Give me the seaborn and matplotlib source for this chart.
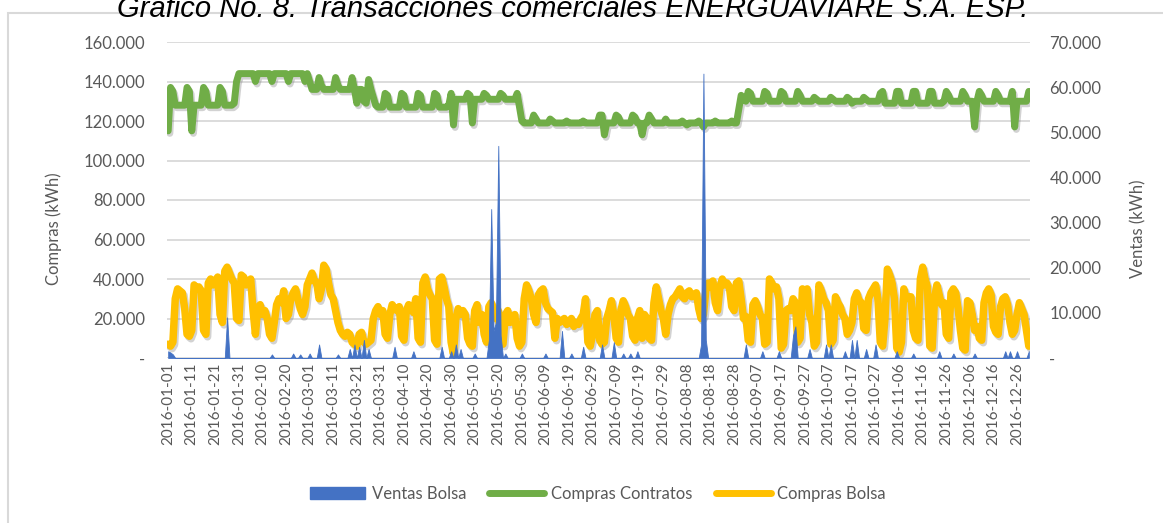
import numpy as np
import pandas as pd
import matplotlib
matplotlib.use('Agg')
import matplotlib.pyplot as plt
import seaborn as sns
from matplotlib import patheffects as pe
from matplotlib.patches import Patch, Rectangle
from matplotlib.lines import Line2D
from matplotlib.ticker import FuncFormatter

sns.set_style('white')
plt.rcParams['font.family'] = ['Lato', 'DejaVu Sans']

# Compras Contratos (miles de kWh), una fila por semana (vie..jue)
compras_contratos = [
    115, 137, 135, 128, 128, 128, 128,
    128, 137, 135, 115, 128, 128, 128,
    128, 137, 135, 128, 128, 128, 128,
    128, 137, 135, 128, 128, 128, 128,
    129, 140, 144, 144, 144, 144, 144,
    144, 144, 140, 144, 144, 144, 144,
    144, 144, 140, 144, 144, 144, 144,
    144, 144, 140, 144, 144, 144, 144,
    144, 144, 140, 144, 140, 136, 136,
    136, 142, 138, 136, 136, 136, 136,
    136, 142, 138, 136, 136, 136, 136,
    136, 142, 136, 129, 136, 136, 130,
    129, 141, 136, 132, 128, 127, 127,
    127, 134, 133, 127, 127, 127, 127,
    127, 134, 133, 127, 127, 127, 127,
    127, 134, 133, 127, 127, 127, 127,
    127, 134, 133, 127, 127, 127, 127,
    128, 134, 118, 131, 131, 131, 131,
    131, 134, 133, 119, 131, 131, 131,
    131, 134, 133, 131, 131, 131, 131,
    131, 134, 133, 131, 131, 131, 131,
    131, 134, 127, 120, 119, 119, 119,
    119, 123, 121, 119, 119, 119, 119,
    119, 121, 120, 119, 119, 119, 119,
    119, 120, 119, 119, 119, 119, 119,
    119, 120, 119, 119, 119, 119, 119,
    119, 123, 123, 113, 119, 119, 119,
    119, 123, 122, 119, 119, 119, 119,
    119, 123, 122, 119, 119, 113, 119,
    119, 123, 121, 119, 119, 119, 119,
    119, 121, 119, 119, 119, 119, 119,
    119, 120, 119, 118, 119, 119, 119,
    119, 120, 119, 117, 119, 119, 119,
    119, 120, 119, 119, 119, 119, 119,
    119, 120, 119, 119, 126, 133, 131,
    130, 135, 134, 130, 130, 130, 130,
    130, 135, 134, 130, 130, 130, 130,
    130, 135, 134, 130, 130, 130, 130,
    130, 135, 133, 130, 130, 130, 130,
    130, 132, 131, 130, 130, 130, 130,
    130, 132, 131, 130, 130, 130, 130,
    130, 132, 131, 129, 130, 130, 130,
    130, 132, 131, 130, 130, 130, 130,
    130, 134, 135, 129, 129, 129, 129,
    129, 135, 135, 129, 129, 129, 129,
    129, 135, 135, 129, 129, 129, 129,
    129, 135, 135, 129, 129, 129, 129,
    130, 135, 133, 130, 130, 130, 130,
    130, 135, 133, 130, 130, 130, 117,
    130, 135, 133, 130, 130, 130, 130,
    130, 135, 133, 130, 130, 130, 130,
    130, 135, 117, 130, 130, 130, 130,
    130, 135,
]

# Compras Bolsa (miles de kWh)
compras_bolsa = [
    7, 6, 8, 30, 35, 34, 33,
    25, 12, 11, 14, 37, 35, 36,
    34, 14, 12, 38, 40, 37, 39,
    41, 22, 18, 44, 46, 43, 40,
    38, 20, 19, 42, 41, 37, 38,
    40, 24, 12, 25, 27, 22, 24,
    20, 12, 10, 18, 27, 30, 28,
    34, 20, 22, 30, 33, 35, 30,
    25, 22, 26, 37, 40, 43, 39,
    38, 30, 35, 47, 45, 38, 32,
    30, 24, 18, 14, 12, 11, 13,
    12, 8, 7, 6, 12, 13, 8,
    7, 8, 9, 20, 24, 26, 22,
    24, 12, 10, 22, 27, 25, 24,
    26, 11, 9, 24, 27, 26, 23,
    30, 10, 8, 38, 41, 35, 32,
    30, 9, 7, 40, 41, 36, 30,
    26, 8, 2, 20, 25, 22, 24,
    22, 10, 7, 6, 24, 27, 18,
    22, 12, 8, 26, 28, 25, 20,
    24, 9, 7, 22, 24, 18, 20,
    22, 10, 6, 8, 30, 37, 34,
    30, 22, 18, 32, 34, 35, 28,
    25, 24, 23, 10, 20, 18, 19,
    20, 17, 18, 20, 16, 18, 17,
    20, 22, 30, 8, 6, 12, 22,
    24, 9, 7, 8, 20, 24, 29,
    22, 10, 8, 24, 29, 26, 22,
    20, 11, 9, 20, 24, 10, 22,
    20, 10, 9, 28, 36, 30, 24,
    20, 12, 22, 27, 30, 31, 33,
    35, 31, 30, 33, 34, 31, 32,
    33, 25, 20, 22, 34, 38, 36,
    39, 28, 24, 36, 40, 37, 38,
    36, 26, 24, 38, 39, 30, 20,
    21, 9, 8, 27, 29, 26, 22,
    20, 7, 8, 40, 38, 35, 36,
    30, 5, 7, 24, 25, 24, 30,
    28, 8, 10, 35, 33, 35, 22,
    18, 6, 8, 37, 34, 30, 28,
    24, 7, 9, 31, 28, 26, 22,
    20, 12, 14, 18, 30, 33, 29,
    28, 15, 14, 30, 33, 35, 37,
    30, 8, 6, 20, 45, 42, 38,
    30, 5, 3, 8, 35, 30, 31,
    31, 14, 10, 9, 40, 46, 40,
    36, 6, 5, 30, 37, 32, 27,
    28, 12, 10, 33, 35, 33, 25,
    14, 5, 4, 29, 28, 22, 14,
    16, 10, 9, 28, 33, 35, 32,
    16, 13, 12, 26, 30, 31, 27,
    18, 12, 14, 22, 28, 25, 22,
    14, 6,
]

# Ventas Bolsa (miles de kWh): solo los dias con ventas
ventas_dias = [0, 1, 2, 25, 44, 53, 56, 60, 64, 72, 77, 79, 81, 83, 85, 96, 104,
               116, 120, 122, 124, 130, 136, 137, 138, 139, 140, 141, 143, 150,
               160, 167, 171, 176, 184, 189, 193, 196, 199, 226, 227, 228, 245,
               252, 259, 265, 266, 272, 279, 281, 287, 290, 292, 296, 300, 309,
               316, 327, 333, 342, 355, 357, 360, 365]
ventas_valores = [1.5, 1.2, 0.8, 9, 0.8, 1.0, 0.8, 1.0, 3, 0.8, 2, 3, 2.5, 4, 2,
                  2.5, 1.5, 2.5, 1.5, 3, 2, 1, 4, 33, 6, 8, 47, 5, 1, 1, 1, 6, 1,
                  2.5, 3, 3.5, 1, 1, 1.5, 3, 63, 4, 3, 1.5, 1.5, 5, 7, 2, 3, 3,
                  1.5, 4, 4, 2, 3, 1.5, 1, 1.5, 1, 1, 1.5, 1.5, 1.5, 1.5]

fechas = pd.date_range('2016-01-01', '2016-12-31', freq='D')
dia = np.arange(len(fechas))
ventas = np.zeros(len(fechas))
ventas[ventas_dias] = ventas_valores

df = pd.DataFrame({'dia': dia,
                   'contratos': np.array(compras_contratos) * 1000,
                   'bolsa': np.array(compras_bolsa) * 1000,
                   'ventas': ventas * 1000})

azul = '#4472C4'
verde = '#70AD47'
amarillo = '#FFC000'
gris = '#595959'

fig = plt.figure(figsize=(11.63, 5.23), dpi=100)
ax = fig.add_axes([167 / 1163, 1 - 358 / 523, 863 / 1163, 316 / 523])

sombra = [pe.SimpleLineShadow(offset=(1.2, -1.8), shadow_color='#7f7f7f', alpha=0.35),
          pe.Normal()]
sns.lineplot(data=df, x='dia', y='contratos', ax=ax, color=verde, linewidth=5.0,
             path_effects=sombra, legend=False)
sns.lineplot(data=df, x='dia', y='bolsa', ax=ax, color=amarillo, linewidth=5.4,
             path_effects=sombra, legend=False)

ax2 = ax.twinx()
ax2.fill_between(df['dia'], df['ventas'], color=azul, linewidth=0.6, edgecolor=azul)

fmt = FuncFormatter(lambda v, p: '-' if v == 0 else f'{v:,.0f}'.replace(',', '.'))
ax.set_xlim(-0.5, len(fechas) - 0.5)
ax.set_ylim(0, 160000)
ax.set_yticks(np.arange(0, 160001, 20000))
ax2.set_ylim(0, 70000)
ax2.set_yticks(np.arange(0, 70001, 10000))
ax.yaxis.set_major_formatter(fmt)
ax2.yaxis.set_major_formatter(fmt)

ticks = dia[::10]
ax.set_xticks(ticks)
ax.set_xticklabels([fechas[i].strftime('%Y-%m-%d') for i in ticks], rotation=90)

ax.grid(axis='y', color='#D9D9D9', linewidth=1.3)
ax.set_axisbelow(True)
for a in (ax, ax2):
    for s in a.spines.values():
        s.set_visible(False)
ax.tick_params(axis='y', length=0, pad=16, labelsize=12, labelcolor=gris)
ax.tick_params(axis='x', length=0, pad=3, labelsize=11, labelcolor=gris)
ax2.tick_params(axis='y', length=0, pad=14, labelsize=12, labelcolor=gris)

ax.set_xlabel('')
ax.set_ylabel('Compras (kWh)', fontsize=12, color=gris)
ax.yaxis.set_label_coords(-0.122, 0.41)
ax2.set_ylabel('Ventas (kWh)', fontsize=12, color=gris)
ax2.yaxis.set_label_coords(1.116, 0.41)

fig.text(573 / 1163, 1 - 17 / 523,
         'Gráfico No. 8. Transacciones comerciales ENERGUAVIARE S.A. ESP.',
         ha='center', va='baseline', fontsize=21, style='italic',
         family='Liberation Sans', color='black')

fig.add_artist(Rectangle((8 / 1163, -0.05), 1.2, 1.05 - 13 / 523,
                         transform=fig.transFigure, fill=False,
                         edgecolor='#D9D9D9', linewidth=1.5))

handles = [Patch(facecolor=azul, edgecolor=azul),
           Line2D([], [], color=verde, linewidth=5),
           Line2D([], [], color=amarillo, linewidth=5)]
fig.legend(handles, ['Ventas Bolsa', 'Compras Contratos', 'Compras Bolsa'],
           loc='center', bbox_to_anchor=(598 / 1163, 1 - 494 / 523), ncol=3,
           frameon=False, fontsize=12, labelcolor=gris, handlelength=3.3,
           handleheight=0.7, columnspacing=1.4, handletextpad=0.4)

fig.savefig('out.png', dpi=100)
